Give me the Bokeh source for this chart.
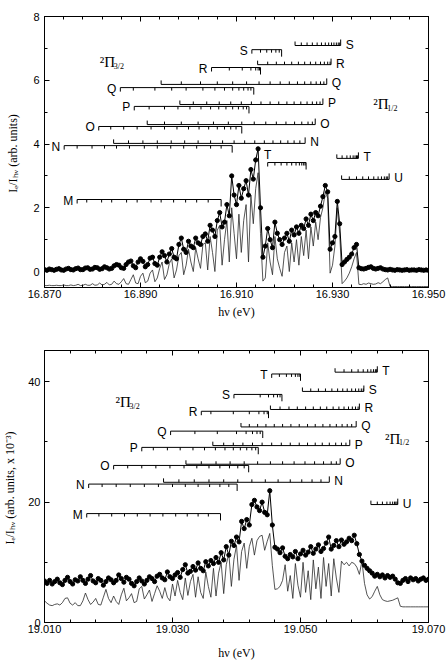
from bokeh.plotting import figure
from bokeh.layouts import column
from bokeh.models import Range1d, FixedTicker, LinearAxis, PrintfTickFormatter
from bokeh.core.properties import value
from bokeh.embed import file_html
from bokeh.resources import INLINE

# ---------------- upper band: 16.870 - 16.950 eV ----------------
E1_START, E1_STEP = 16.870, 0.0005
# measured ratio I_e/I_hv (dots)
I1_EXP = [
    0.06, 0.04, 0.08, 0.06, 0.04, 0.07, 0.09, 0.05, 0.04, 0.08,
    0.10, 0.06, 0.05, 0.09, 0.11, 0.06, 0.06, 0.11, 0.12, 0.07,
    0.08, 0.13, 0.12, 0.07, 0.09, 0.15, 0.12, 0.08, 0.10, 0.18,
    0.22, 0.20, 0.12, 0.10, 0.22, 0.30, 0.33, 0.18, 0.12, 0.30,
    0.40, 0.32, 0.15, 0.22, 0.42, 0.45, 0.25, 0.20, 0.45, 0.62,
    0.50, 0.30, 0.55, 0.72, 0.45, 0.40, 0.85, 1.05, 0.70, 0.60,
    0.95, 0.80, 0.75, 1.05, 0.90, 0.85, 1.10, 1.18, 0.95, 1.45,
    1.30, 1.10, 1.60, 1.85, 1.40, 1.55, 2.10, 1.75, 3.00, 2.40,
    2.10, 2.70, 2.30, 2.60, 2.85, 2.40, 3.20, 2.90, 3.50, 3.85,
    2.00, 0.45, 0.80, 1.35, 1.00, 0.75, 1.55, 1.20, 1.00, 0.85,
    1.05, 1.20, 0.95, 1.30, 1.15, 1.40, 1.20, 1.45, 1.35, 1.65,
    1.45, 1.80, 1.60, 1.85, 1.75, 2.05, 2.35, 2.70, 2.50, 0.70,
    0.90, 1.10, 2.20, 1.50, 0.22, 0.30, 0.38, 0.45, 0.55, 0.75,
    0.85, 0.12, 0.09, 0.08, 0.10, 0.13, 0.15, 0.10, 0.08, 0.10,
    0.12, 0.08, 0.06, 0.05, 0.07, 0.05, 0.04, 0.06, 0.05, 0.04,
    0.05, 0.06, 0.04, 0.05, 0.05, 0.04, 0.06, 0.05, 0.04, 0.05, 0.04,
]
# simulated spectrum (thin line, offset below)
I1_SIM = [
    -0.44, -0.44, -0.43, -0.44, -0.44, -0.43, -0.44, -0.44, -0.42, -0.44,
    -0.44, -0.42, -0.44, -0.43, -0.40, -0.44, -0.43, -0.40, -0.43, -0.43,
    -0.38, -0.43, -0.42, -0.36, -0.42, -0.40, -0.34, -0.42, -0.40, -0.30,
    -0.38, -0.40, -0.32, -0.22, -0.38, -0.40, -0.25, -0.10, -0.36, -0.38,
    -0.15, -0.05, -0.35, -0.30, -0.05, 0.05, -0.32, -0.20, 0.10, 0.30,
    -0.25, -0.10, 0.25, 0.40, -0.20, 0.05, 0.50, 0.60, -0.10, 0.20,
    0.70, 0.30, 0.00, 0.75, 0.40, 0.10, 0.85, 0.90, 0.05, 1.10,
    0.60, 0.00, 1.30, 1.45, 0.20, 1.00, 1.60, 0.30, 2.00, 1.20,
    0.40, 1.80, 0.60, 1.60, 2.10, 0.30, 2.40, 1.50, 2.60, 3.10,
    1.20, -0.30, -0.20, 0.90, 0.30, -0.10, 1.10, 0.40, 0.10, -0.15,
    0.60, 0.80, 0.00, 0.90, 0.30, 1.00, 0.20, 1.10, 0.50, 1.30,
    0.40, 1.40, 0.80, 1.55, 1.00, 1.70, 2.00, 2.50, 2.30, -0.05,
    0.20, 0.80, 2.00, 1.20, -0.38, -0.30, -0.20, -0.05, 0.15, 0.40,
    0.60, -0.40, -0.41, -0.38, -0.40, -0.36, -0.38, -0.40, -0.39, -0.35,
    -0.38, -0.32, -0.25, -0.20, -0.47, -0.47, -0.47, -0.47, -0.47, -0.47,
    -0.47, -0.47, -0.47, -0.47, -0.47, -0.47, -0.47, -0.47, -0.47, -0.47, -0.47,
]

# rotational branches, 2Pi3/2 (left labelled) and 2Pi1/2 (right labelled)
U32_LABELS = ["S", "R", "Q", "P", "O", "N", "M", "T"]
U32_LEVELS = [6.96, 6.40, 5.77, 5.18, 4.55, 3.95, 2.26, 3.42]
U32_LINES = [
    [16.9132, 16.9150, 16.9163, 16.9173, 16.9182, 16.9189, 16.9194],
    [16.9048, 16.9085, 16.9112, 16.9130, 16.9140, 16.9145, 16.9148, 16.9150],
    [16.8858, 16.8885, 16.8930, 16.8965, 16.8995, 16.9030, 16.9055, 16.9075,
     16.9092, 16.9105, 16.9115, 16.9124, 16.9130, 16.9136],
    [16.8887, 16.8918, 16.8950, 16.8978, 16.9003, 16.9026, 16.9046, 16.9063,
     16.9078, 16.9092, 16.9104, 16.9114, 16.9121, 16.9126],
    [16.8813, 16.8838, 16.8865, 16.8893, 16.8922, 16.8950, 16.8976, 16.9000,
     16.9022, 16.9042, 16.9060, 16.9075, 16.9088, 16.9099, 16.9111],
    [16.8741, 16.8768, 16.8799, 16.8825, 16.8850, 16.8877, 16.8908, 16.8935,
     16.8963, 16.8990, 16.9017, 16.9046, 16.9068, 16.9091],
    [16.8768, 16.8788, 16.8819, 16.8840, 16.8871, 16.8893, 16.8922, 16.8943,
     16.8969, 16.8994, 16.9017, 16.9041, 16.9068],
    [16.9165, 16.9180, 16.9193, 16.9205, 16.9215, 16.9224, 16.9231, 16.9236,
     16.9240, 16.9243, 16.9245],
]
U12_LABELS = ["S", "R", "Q", "P", "O", "N", "T", "U"]
U12_LEVELS = [7.09, 6.49, 5.87, 5.24, 4.61, 4.02, 3.55, 2.89]
U12_LINES = [
    [16.9222, 16.9235, 16.9247, 16.9258, 16.9268, 16.9277, 16.9285, 16.9292,
     16.9298, 16.9303, 16.9308, 16.9312, 16.9315, 16.9317],
    [16.9144, 16.9165, 16.9183, 16.9200, 16.9215, 16.9229, 16.9242, 16.9254,
     16.9265, 16.9275, 16.9283, 16.9290, 16.9295, 16.9297],
    [16.8943, 16.8985, 16.9025, 16.9060, 16.9092, 16.9121, 16.9147, 16.9170,
     16.9191, 16.9210, 16.9227, 16.9242, 16.9255, 16.9266, 16.9275, 16.9282, 16.9288],
    [16.8982, 16.9010, 16.9038, 16.9064, 16.9088, 16.9110, 16.9131, 16.9151,
     16.9170, 16.9188, 16.9205, 16.9220, 16.9234, 16.9247, 16.9258, 16.9267,
     16.9274, 16.9280],
    [16.8914, 16.8950, 16.8985, 16.9020, 16.9052, 16.9083, 16.9111, 16.9137,
     16.9161, 16.9183, 16.9203, 16.9221, 16.9236, 16.9249, 16.9258, 16.9264],
    [16.8844, 16.8875, 16.8905, 16.8935, 16.8964, 16.8992, 16.9020, 16.9046,
     16.9071, 16.9095, 16.9117, 16.9138, 16.9158, 16.9176, 16.9192, 16.9207,
     16.9220, 16.9232, 16.9243],
    [16.9309, 16.9320, 16.9330, 16.9337, 16.9343, 16.9347, 16.9350, 16.9352, 16.9354],
    [16.9319, 16.9335, 16.9350, 16.9363, 16.9375, 16.9386, 16.9395, 16.9402,
     16.9408, 16.9412, 16.9415, 16.9418],
]

# ---------------- lower band: 19.010 - 19.070 eV ----------------
E2_START, E2_STEP = 19.010, 0.0004
I2_EXP = [
    6.9, 6.5, 7.0, 6.4, 6.8, 7.2, 6.6, 6.3, 7.0, 7.5,
    6.8, 6.4, 7.1, 6.9, 7.6, 7.0, 6.5, 7.2, 7.8, 6.9,
    6.6, 7.3, 7.0, 6.2, 6.8, 7.4, 7.1, 6.6, 7.0, 7.9,
    7.3, 6.7, 7.5, 7.2, 6.5, 6.1, 6.8, 7.4, 6.9, 6.4,
    7.0, 7.6, 7.3, 6.8, 7.7, 8.0, 7.4, 7.1, 8.4, 7.6,
    7.3, 7.9, 8.3, 7.5, 8.8, 9.6, 8.2, 8.5, 9.3, 8.7,
    9.9, 9.0, 8.6, 10.1, 9.4, 10.3, 9.8, 10.8, 10.0, 11.6,
    10.4, 12.6, 11.2, 13.5, 12.8, 14.2, 13.4, 16.8, 15.6, 17.1,
    16.2, 19.6, 20.3, 19.2, 18.6, 20.0, 18.3, 17.9, 21.9, 16.2,
    12.5, 12.2, 11.6, 12.4, 11.0, 10.6, 11.3, 10.9, 11.8, 10.6,
    11.4, 12.0, 11.2, 11.7, 12.6, 11.5, 12.2, 12.9, 11.8, 12.3,
    13.2, 14.2, 12.2, 12.8, 13.6, 12.6, 13.7, 13.0, 13.4, 14.0,
    13.6, 14.5, 13.1, 11.3, 10.2, 9.5, 9.0, 8.6, 8.2, 7.7,
    8.0, 7.6, 7.9, 7.4, 7.8, 7.5, 7.7, 7.2, 6.6, 6.5,
    7.0, 7.3, 6.8, 7.4, 7.1, 7.3, 6.9, 7.2, 7.4, 7.0, 7.2,
]
I2_SIM = [
    3.6, 3.2, 2.9, 2.8, 3.0, 3.1, 2.9, 3.3, 4.0, 4.1,
    3.2, 2.9, 3.3, 2.8, 2.8, 3.6, 4.9, 3.8, 3.0, 3.4,
    4.0, 3.0, 2.9, 4.2, 5.5, 4.0, 3.3, 4.4, 3.5, 3.0,
    4.6, 5.7, 3.6, 4.1, 4.8, 3.3, 3.5, 5.6, 6.0, 3.9,
    4.6, 5.4, 3.5, 4.8, 6.1, 5.2, 4.0, 5.8, 4.2, 3.6,
    6.4, 4.4, 7.0, 5.0, 3.8, 7.4, 4.5, 6.8, 8.0, 4.2,
    7.6, 5.0, 4.0, 8.4, 6.0, 4.2, 9.0, 4.4, 8.2, 10.0,
    4.8, 9.6, 11.5, 6.0, 10.5, 12.8, 7.0, 11.8, 13.2, 9.0,
    12.6, 14.0, 11.2, 13.6, 14.3, 14.5, 12.0, 13.5, 14.8, 9.5,
    5.5, 5.6, 6.0, 7.0, 9.6, 5.2, 7.8, 4.0, 9.8, 6.2,
    4.2, 10.0, 5.0, 8.6, 3.8, 10.4, 5.6, 9.2, 4.0, 10.8,
    6.0, 9.8, 4.4, 10.6, 7.4, 5.0, 10.2, 9.6, 10.0, 9.4,
    10.0, 9.8, 9.2, 8.0, 10.2, 6.5, 4.6, 3.9, 4.3, 5.2,
    6.0, 4.6, 3.8, 3.6, 3.5, 3.6, 3.7, 3.9, 4.1, 2.7,
    2.6, 2.6, 2.6, 2.6, 2.6, 2.6, 2.6, 2.6, 2.6, 2.6, 2.6,
]

L32_LABELS = ["T", "S", "R", "Q", "P", "O", "N", "M"]
L32_LEVELS = [41.3, 37.9, 35.1, 31.8, 29.1, 26.1, 23.0, 18.1]
L32_LINES = [
    [19.0455, 19.0467, 19.0478, 19.0486, 19.0492, 19.0496, 19.0499, 19.0500],
    [19.0396, 19.0437, 19.0450, 19.0458, 19.0464, 19.0468, 19.0471],
    [19.0345, 19.0360, 19.0395, 19.0420, 19.0435, 19.0443, 19.0448, 19.0450],
    [19.0297, 19.0335, 19.0370, 19.0400, 19.0415, 19.0425, 19.0432, 19.0437, 19.0441],
    [19.0252, 19.0270, 19.0292, 19.0312, 19.0332, 19.0350, 19.0367, 19.0382,
     19.0395, 19.0406, 19.0416, 19.0424, 19.0430, 19.0434],
    [19.0208, 19.0230, 19.0252, 19.0274, 19.0296, 19.0318, 19.0338, 19.0357,
     19.0374, 19.0389, 19.0402, 19.0412, 19.0419],
    [19.0169, 19.0190, 19.0212, 19.0234, 19.0256, 19.0278, 19.0300, 19.0320,
     19.0340, 19.0358, 19.0374, 19.0388, 19.0401],
    [19.0166, 19.0185, 19.0205, 19.0225, 19.0245, 19.0265, 19.0285, 19.0305,
     19.0323, 19.0340, 19.0356, 19.0375],
]
L12_LABELS = ["T", "S", "R", "Q", "P", "O", "N", "U"]
L12_LEVELS = [41.6, 38.4, 35.4, 32.5, 29.4, 26.3, 23.3, 19.6]
L12_LINES = [
    [19.0554, 19.0568, 19.0580, 19.0590, 19.0598, 19.0605, 19.0610, 19.0614,
     19.0617, 19.0619, 19.0620],
    [19.0503, 19.0516, 19.0528, 19.0539, 19.0549, 19.0558, 19.0566, 19.0573,
     19.0580, 19.0586, 19.0591, 19.0595, 19.0598, 19.0599],
    [19.0453, 19.0468, 19.0482, 19.0495, 19.0508, 19.0520, 19.0531, 19.0541,
     19.0551, 19.0560, 19.0568, 19.0575, 19.0581, 19.0586, 19.0590, 19.0592],
    [19.0407, 19.0420, 19.0433, 19.0446, 19.0459, 19.0472, 19.0485, 19.0498,
     19.0511, 19.0523, 19.0535, 19.0546, 19.0556, 19.0565, 19.0573, 19.0580, 19.0587],
    [19.0363, 19.0380, 19.0395, 19.0410, 19.0425, 19.0440, 19.0455, 19.0470,
     19.0484, 19.0498, 19.0511, 19.0523, 19.0534, 19.0545, 19.0555, 19.0564,
     19.0571, 19.0577],
    [19.0321, 19.0345, 19.0368, 19.0390, 19.0412, 19.0433, 19.0453, 19.0472,
     19.0490, 19.0507, 19.0522, 19.0536, 19.0548, 19.0556, 19.0562],
    [19.0286, 19.0310, 19.0334, 19.0357, 19.0380, 19.0402, 19.0424, 19.0445,
     19.0465, 19.0484, 19.0502, 19.0518, 19.0532, 19.0545],
    [19.0610, 19.0620, 19.0628, 19.0635, 19.0640, 19.0644, 19.0647, 19.0649,
     19.0651, 19.0652],
]

# axis ticks
X1_TICKS = [16.870, 16.890, 16.910, 16.930, 16.950]
Y1_TICKS = [0, 2, 4, 6, 8]
X2_TICKS = [19.010, 19.030, 19.050, 19.070]
Y2_TICKS = [0, 20, 40]

INK = "black"
SANS = "Liberation Sans"
SERIF = "Liberation Serif"


def make_panel(height, xr, yr, borders):
    left, right, top, bottom = borders
    p = figure(width=448, height=height, x_range=Range1d(*xr), y_range=Range1d(*yr),
               output_backend="svg", toolbar_location=None,
               min_border_left=left, min_border_right=right,
               min_border_top=top, min_border_bottom=bottom)
    p.grid.visible = False
    p.outline_line_color = INK
    p.outline_line_width = 1
    p.background_fill_color = "white"
    p.border_fill_color = "white"
    return p


def tick_style(ax):
    ax.axis_line_color = INK
    ax.major_tick_line_color = INK
    ax.minor_tick_line_color = INK
    ax.major_tick_in = 5
    ax.major_tick_out = 0
    ax.minor_tick_in = 3
    ax.minor_tick_out = 0


def style_axes(p, xticks, xminor, yticks, yminor, xlabel, ylabel,
               x_label_standoff, y_tick_standoff, y_label_standoff):
    xt = FixedTicker(ticks=xticks, minor_ticks=xminor)
    yt = FixedTicker(ticks=yticks, minor_ticks=yminor)
    mx = p.below[0]
    my = p.left[0]
    mx.ticker = xt
    my.ticker = yt
    mx.formatter = PrintfTickFormatter(format="%.3f")
    mx.axis_label = xlabel
    my.axis_label = ylabel
    mx.major_label_standoff = 2
    my.major_label_standoff = y_tick_standoff
    mx.axis_label_standoff = x_label_standoff
    my.axis_label_standoff = y_label_standoff
    for ax in (mx, my):
        tick_style(ax)
        ax.major_label_text_font = SANS
        ax.major_label_text_font_size = "11px"
        ax.major_label_text_color = INK
        ax.axis_label_text_font = SERIF
        ax.axis_label_text_font_size = "12px"
        ax.axis_label_text_font_style = "normal"
        ax.axis_label_text_color = INK
    # mirrored tick marks on the top and right edges of the frame
    for loc, ticker in (("above", xt), ("right", yt)):
        ax = LinearAxis(ticker=ticker)
        tick_style(ax)
        ax.major_label_text_font_size = "0px"
        ax.major_label_text_color = None
        ax.major_label_standoff = 0
        p.add_layout(ax, loc)


def draw_spectra(p, start, step, exp, sim):
    xe = [start + step * k for k in range(len(exp))]
    xs = [start + step * k for k in range(len(sim))]
    p.line(xs, sim, line_color="#2a2a2a", line_width=0.8)
    p.line(xe, exp, line_color=INK, line_width=1)
    p.scatter(xe, exp, marker="circle", size=4.2, fill_color=INK, line_color=INK)


def draw_comb(p, lines, level, label, upward, unit, label_mode="side"):
    n = len(lines)
    p.segment(x0=[lines[0]], y0=[level], x1=[lines[-1]], y1=[level],
              line_color=INK, line_width=1)
    sign = 1 if upward else -1
    lengths = [4] + [3] * (n - 2) + [6 if upward else 7]
    p.segment(x0=lines, y0=[level] * n, x1=lines,
              y1=[level + sign * l * unit for l in lengths],
              line_color=INK, line_width=1)
    common = dict(text=[label], text_font=value(SANS), text_font_size="12px",
                  text_color=INK, text_baseline="middle")
    if label_mode == "above":
        p.text(x=[lines[0]], y=[level], y_offset=-8, text_align="center", **common)
    elif upward:
        p.text(x=[lines[-1]], y=[level], x_offset=5, y_offset=-1,
               text_align="left", **common)
    else:
        p.text(x=[lines[0]], y=[level], x_offset=-4, y_offset=1,
               text_align="right", **common)


def term_label(p, x, y, sub):
    p.text(x=[x], y=[y], text=["\u00b2\u03a0"], text_font=value(SERIF),
           text_font_size="15px", text_color=INK, text_baseline="middle",
           text_align="left")
    p.text(x=[x], y=[y], text=[sub], text_font=value(SERIF), x_offset=14, y_offset=4,
           text_font_size="8px", text_color=INK, text_baseline="middle",
           text_align="left")


def minors(majors, step):
    out = []
    for a, b in zip(majors[:-1], majors[1:]):
        k = 1
        while a + k * step < b - step / 2:
            out.append(round(a + k * step, 4))
            k += 1
    return out


# ---------- upper panel ----------
Y1_RANGE = (-0.5, 8.0)
p1 = make_panel(322, (16.870, 16.950), Y1_RANGE, (39, 20, 16, 35))
style_axes(p1, X1_TICKS, minors(X1_TICKS, 0.004), Y1_TICKS, [1, 3, 5, 7],
           "h\u03bd (eV)", "I\u2091/I\u2095\u1d65  (arb. units)", 4, 5, 10)
draw_spectra(p1, E1_START, E1_STEP, I1_EXP, I1_SIM)
unit1 = (Y1_RANGE[1] - Y1_RANGE[0]) / 271
for lab, lev, ln in zip(U32_LABELS, U32_LEVELS, U32_LINES):
    draw_comb(p1, ln, lev, lab, False, unit1, "above" if lab == "T" else "side")
for lab, lev, ln in zip(U12_LABELS, U12_LEVELS, U12_LINES):
    draw_comb(p1, ln, lev, lab, True, unit1)
term_label(p1, 16.8815, 6.56, "3/2")
term_label(p1, 16.9385, 5.24, "1/2")

# ---------- lower panel ----------
Y2_RANGE = (0.0, 45.2)
p2 = make_panel(340, (19.010, 19.070), Y2_RANGE, (36, 13, 28, 35))
style_axes(p2, X2_TICKS, minors(X2_TICKS, 0.004), Y2_TICKS, [10, 30],
           "h\u03bd (eV)", "I\u2091/I\u2095\u1d65  (arb. units, x 10\u207b\u00b3)", 10, 4, 8)
draw_spectra(p2, E2_START, E2_STEP, I2_EXP, I2_SIM)
unit2 = (Y2_RANGE[1] - Y2_RANGE[0]) / 277
for lab, lev, ln in zip(L32_LABELS, L32_LEVELS, L32_LINES):
    draw_comb(p2, ln, lev, lab, False, unit2)
for lab, lev, ln in zip(L12_LABELS, L12_LEVELS, L12_LINES):
    draw_comb(p2, ln, lev, lab, True, unit2)
term_label(p2, 19.0211, 36.6, "3/2")
term_label(p2, 19.0632, 30.5, "1/2")

layout = column(p1, p2, spacing=0)
open("out.html", "w").write(file_html(layout, INLINE, title="Rotational band spectra"))
